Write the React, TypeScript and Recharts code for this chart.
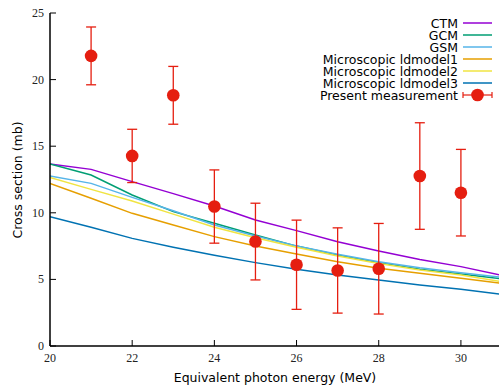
import React from "react";
import { ComposedChart, Line, Scatter, XAxis, YAxis, ErrorBar } from "recharts";

const modelEnergies = [20, 21, 22, 23, 24, 25, 26, 27, 28, 29, 30, 31];
const ctm = [13.66, 13.26, 12.34, 11.44, 10.51, 9.46, 8.66, 7.83, 7.13, 6.5, 5.96, 5.3];
const gcm = [13.66, 12.84, 11.34, 10.09, 9.21, 8.33, 7.5, 6.83, 6.26, 5.76, 5.4, 5.05];
const gsm = [12.76, 12.21, 11.16, 10.16, 9.08, 8.26, 7.5, 6.88, 6.33, 5.88, 5.5, 5.15];
const ldmodel1 = [12.21, 11.09, 9.96, 9.08, 8.21, 7.5, 6.91, 6.33, 5.83, 5.46, 5.08, 4.7];
const ldmodel2 = [12.66, 11.76, 10.89, 9.9, 8.91, 8.13, 7.41, 6.76, 6.2, 5.71, 5.33, 4.83];
const ldmodel3 = [9.71, 8.91, 8.08, 7.41, 6.81, 6.26, 5.76, 5.33, 4.95, 4.58, 4.26, 3.88];

const measEnergies = [21, 22, 23, 24, 25, 26, 27, 28, 29, 30];
const measured = [21.78, 14.27, 18.82, 10.47, 7.84, 6.1, 5.67, 5.8, 12.76, 11.51];
const measErr = [2.17, 2.0, 2.17, 2.75, 2.88, 3.35, 3.2, 3.4, 4.0, 3.25];

const xTicks = [20, 22, 24, 26, 28, 30];
const yTicks = [0, 5, 10, 15, 20, 25];

const series = [
  { name: "CTM", values: ctm, color: "#9400d3" },
  { name: "GCM", values: gcm, color: "#009e73" },
  { name: "GSM", values: gsm, color: "#56b4e9" },
  { name: "Microscopic ldmodel1", values: ldmodel1, color: "#e69f00" },
  { name: "Microscopic ldmodel2", values: ldmodel2, color: "#f0e442" },
  { name: "Microscopic ldmodel3", values: ldmodel3, color: "#0072b2" },
];
const measName = "Present measurement";
const RED = "#e51e10";

const modelData = modelEnergies.map((e, i) => {
  const row: any = { x: e };
  series.forEach((s) => (row[s.name] = s.values[i]));
  return row;
});
const measData = measEnergies.map((e, i) => ({ x: e, y: measured[i], err: measErr[i] }));

const tickFont = "'Liberation Serif', 'Times New Roman', serif";
const sansFont = "'DejaVu Sans', sans-serif";

const BottomTick = (p: any) => (
  <g>
    <line x1={p.x} y1={p.y} x2={p.x} y2={p.y - 6} stroke="#000" strokeWidth={1} />
    <text x={p.x} y={p.y + 16} textAnchor="middle" fontFamily={tickFont} fontSize={12} fill="#222">
      {p.payload.value}
    </text>
  </g>
);
const TopTick = (p: any) => (
  <line x1={p.x} y1={p.y} x2={p.x} y2={p.y + 6} stroke="#000" strokeWidth={1} />
);
const LeftTick = (p: any) => (
  <g>
    <line x1={p.x} y1={p.y} x2={p.x + 6} y2={p.y} stroke="#000" strokeWidth={1} />
    <text x={p.x - 6} y={p.y + 4} textAnchor="end" fontFamily={tickFont} fontSize={12} fill="#222">
      {p.payload.value}
    </text>
  </g>
);
const RightTick = (p: any) => (
  <line x1={p.x} y1={p.y} x2={p.x - 6} y2={p.y} stroke="#000" strokeWidth={1} />
);

const Dot = (p: any) => <circle cx={p.cx} cy={p.cy} r={6.3} fill={RED} />;

const LegendBox = () => {
  const rowY = [23, 35, 47, 59, 71, 83, 95];
  return (
    <svg width={499} height={110} style={{ position: "absolute", left: 0, top: 0, pointerEvents: "none" }}>
      {series.map((s, i) => (
        <g key={s.name}>
          <text x={458} y={rowY[i] + 4.5} textAnchor="end" fontFamily={sansFont} fontSize={12.5} fill="#000">
            {s.name}
          </text>
          <line x1={463} x2={492} y1={rowY[i]} y2={rowY[i]} stroke={s.color} strokeWidth={1.5} />
        </g>
      ))}
      <g>
        <text x={458} y={rowY[6] + 4.5} textAnchor="end" fontFamily={sansFont} fontSize={12.5} fill="#000">
          {measName}
        </text>
        <line x1={463} x2={492} y1={rowY[6]} y2={rowY[6]} stroke={RED} strokeWidth={1.2} />
        <line x1={463} x2={463} y1={rowY[6] - 3} y2={rowY[6] + 3} stroke={RED} strokeWidth={1.2} />
        <line x1={492} x2={492} y1={rowY[6] - 3} y2={rowY[6] + 3} stroke={RED} strokeWidth={1.2} />
        <circle cx={477.5} cy={rowY[6]} r={6.3} fill={RED} />
      </g>
    </svg>
  );
};

export default function App() {
  return (
    <div style={{ position: "fixed", left: 0, top: 0, width: 499, height: 386, overflow: "hidden", background: "#fff" }}>
      <ComposedChart
        width={520}
        height={386}
        margin={{ top: 13, right: 18, bottom: 0, left: 0 }}
      >
        <XAxis
          xAxisId="b"
          dataKey="x"
          type="number"
          domain={[20, 31]}
          ticks={xTicks}
          allowDataOverflow
          height={40}
          tickSize={0}
          tickMargin={0}
          tickLine={false}
          tick={BottomTick}
          axisLine={{ stroke: "#000", strokeWidth: 1.5 }}
          interval={0}
        />
        <XAxis
          xAxisId="t"
          orientation="top"
          dataKey="x"
          type="number"
          domain={[20, 31]}
          ticks={xTicks}
          allowDataOverflow
          height={0}
          tickSize={0}
          tickMargin={0}
          tickLine={false}
          tick={TopTick}
          axisLine={{ stroke: "#000", strokeWidth: 1.5 }}
          interval={0}
        />
        <YAxis
          yAxisId="l"
          type="number"
          domain={[0, 25]}
          ticks={yTicks}
          width={50}
          tickSize={0}
          tickMargin={0}
          tickLine={false}
          tick={LeftTick}
          axisLine={{ stroke: "#000", strokeWidth: 1.5 }}
          interval={0}
        />
        <YAxis
          yAxisId="r"
          orientation="right"
          type="number"
          domain={[0, 25]}
          ticks={yTicks}
          width={0}
          tickSize={0}
          tickMargin={0}
          tickLine={false}
          tick={RightTick}
          axisLine={{ stroke: "#000", strokeWidth: 1.5 }}
          interval={0}
        />
        {series.map((s) => (
          <Line
            key={s.name}
            xAxisId="b"
            yAxisId="l"
            data={modelData}
            dataKey={s.name}
            stroke={s.color}
            strokeWidth={1.5}
            dot={false}
            activeDot={false}
            type="linear"
            isAnimationActive={false}
          />
        ))}
        <Scatter
          xAxisId="b"
          yAxisId="l"
          data={measData}
          dataKey="y"
          name={measName}
          fill={RED}
          shape={Dot}
          isAnimationActive={false}
        >
          <ErrorBar dataKey="err" direction="y" width={5} stroke={RED} strokeWidth={1.3} isAnimationActive={false} />
        </Scatter>
      </ComposedChart>
      <div
        style={{
          position: "absolute",
          left: 17,
          top: 179.5,
          transform: "translate(-50%, -50%) rotate(-90deg)",
          fontFamily: sansFont,
          fontSize: 12.5,
          whiteSpace: "nowrap",
          color: "#000",
        }}
      >
        Cross section (mb)
      </div>
      <div
        style={{
          position: "absolute",
          left: 275,
          top: 377,
          transform: "translate(-50%, -50%)",
          fontFamily: sansFont,
          fontSize: 12.5,
          whiteSpace: "nowrap",
          color: "#000",
        }}
      >
        Equivalent photon energy (MeV)
      </div>
      <LegendBox />
    </div>
  );
}
